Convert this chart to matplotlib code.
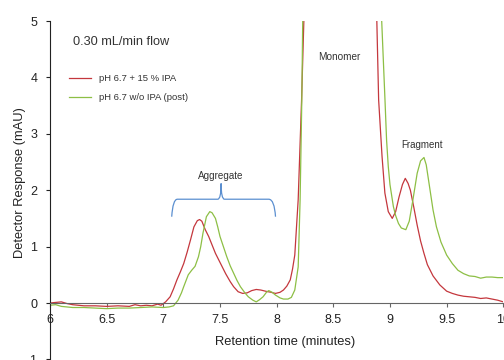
import matplotlib
matplotlib.use("Agg")
import matplotlib.pyplot as plt
from matplotlib.path import Path
from matplotlib.patches import PathPatch

plt.rcParams["font.family"] = ["Liberation Sans", "DejaVu Sans"]
plt.rcParams["axes.unicode_minus"] = False

RED = "#c4373d"
GREEN = "#8dbf45"
BLUE = "#5b8fd0"
TXT = "#333333"

# pH 6.7 + 15 % IPA
red_x = [6.0, 6.05, 6.1, 6.15, 6.2, 6.25, 6.3, 6.4, 6.5, 6.6, 6.7, 6.75, 6.8, 6.85, 6.9, 6.95,
         6.98, 7.02, 7.06, 7.09, 7.12, 7.15, 7.18, 7.21, 7.24, 7.27, 7.30, 7.32, 7.34, 7.37,
         7.40, 7.43, 7.46, 7.49, 7.52, 7.55, 7.59, 7.62, 7.66, 7.70, 7.74, 7.78, 7.82, 7.86,
         7.90, 7.95, 7.99, 8.03, 8.06, 8.09, 8.12, 8.14, 8.16, 8.19, 8.22, 8.24, 8.30, 8.55,
         8.80, 8.884, 8.90, 8.93, 8.955, 8.985, 9.02, 9.05, 9.08, 9.11, 9.135, 9.16, 9.18,
         9.21, 9.24, 9.27, 9.30, 9.33, 9.38, 9.44, 9.50, 9.55, 9.60, 9.65, 9.70, 9.75, 9.80,
         9.85, 9.90, 9.95, 10.0]
red_y = [0.0, 0.01, 0.02, -0.01, -0.03, -0.04, -0.05, -0.05, -0.06, -0.05, -0.06, -0.03, -0.05, -0.04, -0.05, -0.02,
         -0.04, 0.02, 0.11, 0.25, 0.41, 0.55, 0.70, 0.90, 1.12, 1.35, 1.46, 1.48, 1.45, 1.30,
         1.18, 1.03, 0.88, 0.76, 0.64, 0.52, 0.38, 0.29, 0.20, 0.17, 0.18, 0.22, 0.24, 0.23,
         0.21, 0.19, 0.17, 0.19, 0.23, 0.30, 0.41, 0.60, 0.85, 1.83, 3.6, 5.0, 12.0, 30.0,
         12.0, 5.0, 3.6, 2.6, 1.95, 1.62, 1.50, 1.62, 1.88, 2.10, 2.21, 2.12, 2.0,
         1.70, 1.38, 1.10, 0.88, 0.68, 0.48, 0.32, 0.21, 0.17, 0.14, 0.12, 0.11, 0.10, 0.08,
         0.09, 0.07, 0.05, 0.02]

# pH 6.7 w/o IPA (post)
green_x = [6.0, 6.05, 6.1, 6.2, 6.3, 6.4, 6.5, 6.6, 6.7, 6.8, 6.9, 7.0, 7.05, 7.09, 7.13, 7.16,
           7.18, 7.22, 7.25, 7.28, 7.31, 7.33, 7.35, 7.38, 7.41, 7.43, 7.46, 7.48, 7.50, 7.53,
           7.56, 7.59, 7.62, 7.65, 7.68, 7.72, 7.75, 7.79, 7.82, 7.85, 7.88, 7.91, 7.93, 7.96,
           7.99, 8.03, 8.06, 8.10, 8.13, 8.16, 8.19, 8.207, 8.222, 8.23, 8.30, 8.60, 8.85,
           8.927, 8.956, 8.97, 8.985, 9.0, 9.03, 9.05, 9.075, 9.10, 9.14, 9.17, 9.20, 9.24,
           9.27, 9.30, 9.32, 9.35, 9.38, 9.41, 9.45, 9.50, 9.55, 9.60, 9.65, 9.70, 9.75, 9.80,
           9.85, 9.90, 9.95, 10.0]
green_y = [-0.04, -0.03, -0.06, -0.08, -0.08, -0.09, -0.10, -0.09, -0.09, -0.08, -0.07, -0.08, -0.07, -0.05, 0.05, 0.18,
           0.29, 0.50, 0.58, 0.65, 0.82, 1.0, 1.24, 1.53, 1.62, 1.60, 1.50, 1.35, 1.18, 1.0,
           0.82, 0.66, 0.53, 0.40, 0.29, 0.18, 0.11, 0.05, 0.02, 0.06, 0.11, 0.19, 0.22, 0.19,
           0.14, 0.09, 0.07, 0.07, 0.10, 0.23, 0.64, 1.83, 3.6, 5.0, 14.0, 32.0, 14.0,
           5.0, 3.6, 2.89, 2.42, 2.1, 1.71, 1.55, 1.41, 1.33, 1.30, 1.45, 1.8, 2.3,
           2.52, 2.58, 2.45, 2.05, 1.65, 1.35, 1.08, 0.85, 0.70, 0.58, 0.52, 0.48, 0.47, 0.44,
           0.46, 0.46, 0.45, 0.45]

x_ticks = [6, 6.5, 7, 7.5, 8, 8.5, 9, 9.5, 10]
x_tick_labels = ["6", "6.5", "7", "7.5", "8", "8.5", "9", "9.5", "10"]
y_ticks = [-1, 0, 1, 2, 3, 4, 5]

fig = plt.figure(figsize=(5.04, 3.6), dpi=100)
ax = fig.add_axes([50 / 504, 0.6 / 360, 453.3 / 504, 338.4 / 360])

ax.plot(red_x, red_y, color=RED, lw=0.9, label="pH 6.7 + 15 % IPA")
ax.plot(green_x, green_y, color=GREEN, lw=0.9, label="pH 6.7 w/o IPA (post)")

ax.set_xlim(6, 10)
ax.set_ylim(-1, 5)
ax.set_xticks(x_ticks)
ax.set_xticklabels(x_tick_labels)
ax.set_yticks(y_ticks)

for s in ["top", "right"]:
    ax.spines[s].set_visible(False)
ax.spines["bottom"].set_position(("data", 0))
ax.spines["bottom"].set_color("#666666")
ax.spines["left"].set_color("#222222")
ax.spines["left"].set_linewidth(0.8)
ax.tick_params(axis="x", length=3, width=0.8, colors="#666666", labelcolor="#222222",
               labelsize=9, pad=5)
ax.tick_params(axis="y", length=3, width=0.8, colors="#222222", labelsize=9, pad=6)

fig.text(285 / 504, 1 - 342 / 360, "Retention time (minutes)", ha="center", va="center",
         fontsize=9.3, color="#222222")
fig.text(20 / 504, 1 - 183 / 360, "Detector Response (mAU)", ha="center", va="center",
         rotation=90, fontsize=9.3, color="#222222")

ax.text(6.2, 4.63, "0.30 mL/min flow", fontsize=9.2, color=TXT, va="center", ha="left")
ax.text(8.55, 4.36, "Monomer", fontsize=7.2, color=TXT, ha="center", va="center")
ax.text(9.28, 2.80, "Fragment", fontsize=7.0, color=TXT, ha="center", va="center")
ax.text(7.51, 2.25, "Aggregate", fontsize=7.1, color=TXT, ha="center", va="center")

# curly bracket over the aggregate peaks
xl, xr, xc = 7.074, 7.98, 7.51
yb, yh, yc = 1.53, 1.84, 2.12
verts = [(xl, yb), (xl + 0.01, yh), (xl + 0.05, yh),
         (xc - 0.03, yh), (xc, yh), (xc, yc),
         (xc, yh), (xc + 0.03, yh),
         (xr - 0.05, yh), (xr, yh), (xr + 0.01, yb)]
codes = [Path.MOVETO, Path.CURVE3, Path.CURVE3,
         Path.LINETO, Path.CURVE3, Path.CURVE3,
         Path.CURVE3, Path.CURVE3,
         Path.LINETO, Path.CURVE3, Path.CURVE3]
ax.add_patch(PathPatch(Path(verts, codes), fill=False, edgecolor=BLUE, lw=0.9))

ax.legend(loc="upper left", bbox_to_anchor=(69 / 504, 1 - 74 / 360), bbox_transform=fig.transFigure,
          frameon=False, fontsize=6.8, handlelength=2.3, handletextpad=0.9, labelspacing=1.05,
          borderpad=0, borderaxespad=0, labelcolor=TXT)

fig.savefig("out.png", dpi=100)
